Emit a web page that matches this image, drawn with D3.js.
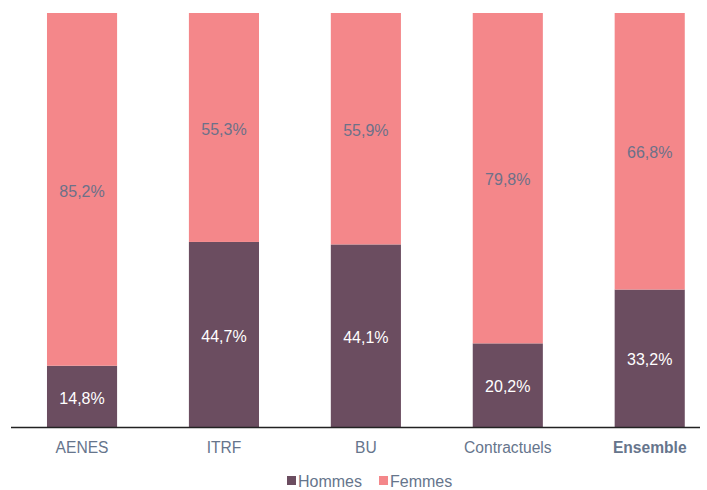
<!DOCTYPE html>
<html lang="fr">
<head>
<meta charset="UTF-8">
<title>Hommes / Femmes</title>
<script src="https://d3js.org/d3.v7.min.js"></script>
<style>
    body { margin: 0; background: #fff; }
    svg text { font-family: "Liberation Sans", Arial, sans-serif; }
</style>
</head>
<body>
<div id="chart"></div>
<script>
    var categories = ["AENES", "ITRF", "BU", "Contractuels", "Ensemble"];
    var hommes = [14.8, 44.7, 44.1, 20.2, 33.2];
    var femmes = [85.2, 55.3, 55.9, 79.8, 66.8];
    var seriesNames = ["Hommes", "Femmes"];
    var colors = { Hommes: "#6b4d60", Femmes: "#f4878a" };

    var W = 707, H = 490;
    var plotTop = 13, baseY = 427;

    var svg = d3.select("#chart").append("svg")
        .attr("width", W).attr("height", H);

    var rows = categories.map((c, i) => ({ cat: c, Hommes: hommes[i], Femmes: femmes[i] }));
    var stacked = d3.stack().keys(seriesNames)(rows);

    // step ~141.75px, bars 70px wide
    var x = d3.scaleBand().domain(categories).range([11.5, 720.25])
        .paddingInner(0.506).paddingOuter(0.25);
    var y = d3.scaleLinear().domain([0, 100]).range([baseY, plotTop]);

    var fmt = v => d3.format(".1f")(v).replace(".", ",") + "%";

    stacked.forEach(function (s) {
        var g = svg.append("g");
        g.selectAll("rect").data(s).enter().append("rect")
            .attr("x", d => x(d.data.cat))
            .attr("y", d => y(d[1]))
            .attr("width", x.bandwidth())
            .attr("height", d => y(d[0]) - y(d[1]))
            .attr("fill", colors[s.key]);
        g.selectAll("text").data(s).enter().append("text")
            .attr("x", d => x(d.data.cat) + x.bandwidth() / 2)
            .attr("y", d => (y(d[0]) + y(d[1])) / 2)
            .attr("dy", "0.45em")
            .attr("text-anchor", "middle")
            .style("font-size", "16px")
            .attr("fill", s.key === "Hommes" ? "#ffffff" : "#6c7189")
            .text(d => fmt(d.data[s.key]));
    });

    // x axis (baseline drawn separately so it stops at the plot edge)
    var xAxis = svg.append("g")
        .attr("transform", "translate(0," + baseY + ")")
        .call(d3.axisBottom(x).tickSize(0).tickPadding(15));
    xAxis.select(".domain").remove();
    xAxis.selectAll("text")
        .style("font-size", "15.6px")
        .attr("fill", "#66758c")
        .style("font-weight", d => d === "Ensemble" ? "bold" : "normal");
    svg.append("line")
        .attr("x1", 11).attr("x2", 700)
        .attr("y1", y(0) + 0.5).attr("y2", y(0) + 0.5)
        .attr("stroke", "#222").attr("stroke-width", 1.3);

    // legend
    var legend = svg.append("g").attr("transform", "translate(287,481)");
    var lx = 0;
    seriesNames.forEach(function (n) {
        legend.append("rect").attr("x", lx).attr("y", -5).attr("width", 9).attr("height", 9).attr("fill", colors[n]);
        var t = legend.append("text").attr("x", lx + 11).attr("y", 0).attr("dy", "0.35em")
            .style("font-size", "16px").attr("fill", "#66758c").text(n);
        lx += 11 + t.node().getComputedTextLength() + 17;
    });
</script>
</body>
</html>
